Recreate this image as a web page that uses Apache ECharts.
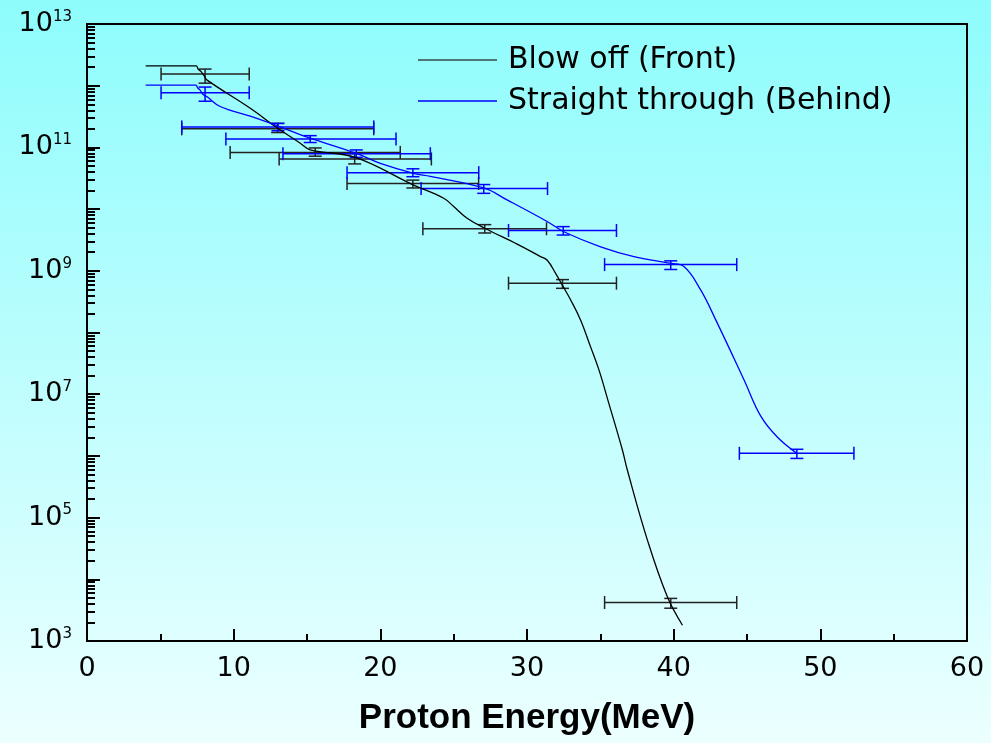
<!DOCTYPE html>
<html>
<head>
<meta charset="utf-8">
<style>
  html, body { margin: 0; padding: 0; }
  #chart { width: 991px; height: 743px; }
</style>
<script src="https://cdn.jsdelivr.net/npm/echarts@6/dist/echarts.min.js"></script>
</head>
<body>
<div id="chart"></div>
<script>
// curves (x: MeV, y: counts)
const frontCurveX = [4.0, 7.44, 7.58, 7.78, 7.99, 8.19, 11.13, 13.06, 14.54, 15.22, 18.29, 22.27, 24.32, 25.0, 25.92, 27.12, 29.33, 30.92, 31.38, 31.95, 32.4, 32.97, 33.65, 34.33, 34.9, 35.58, 36.5, 36.84, 38.2, 39.57, 40.6]
const frontCurveY = [2.1e12, 2.1e12, 1.86e12, 1.69e12, 1.44e12, 1.23e12, 4.3e11, 2.0e11, 1.17e11, 9.1e10, 6.9e10, 2.45e10, 1.5e10, 1.1e10, 7.1e9, 4.9e9, 2.7e9, 1.7e9, 1.48e9, 9.1e8, 5.9e8, 3.4e8, 1.6e8, 5.9e7, 2.5e7, 7.1e6, 1.26e6, 5.9e5, 4.4e4, 5.2e3, 1.8e3]

const behindCurveX = [4.0, 7.44, 7.53, 7.71, 7.92, 8.19, 9.08, 11.13, 13.06, 15.22, 18.41, 20.0, 22.27, 23.41, 27.05, 28.64, 31.37, 32.51, 35.02, 37.29, 39.8, 40.7, 41.84, 42.87, 44.8, 45.94, 47.08, 48.4]
const behindCurveY = [1.02e12, 1.02e12, 9.3e11, 8.5e11, 7.2e11, 6.6e11, 4.6e11, 3.2e11, 2.2e11, 1.41e11, 7.9e10, 5.5e10, 3.8e10, 3.4e10, 2.2e10, 1.41e10, 6.3e9, 4.3e9, 2.45e9, 1.7e9, 1.32e9, 1.17e9, 4.9e8, 1.6e8, 1.7e7, 4.4e6, 2.0e6, 1.1e6]

// measured points with error bars
const frontX = [8.05, 13.0, 15.56, 18.25, 22.22, 27.12, 32.42, 39.8]
const frontY = [1.55e12, 2.0e11, 8.3e10, 6.5e10, 2.6e10, 4.8e9, 6.3e8, 4.2e3]
const frontXLow = [5.05, 6.46, 9.76, 13.1, 17.73, 22.9, 28.74, 35.29]
const frontXHigh = [11.06, 19.55, 21.36, 23.48, 26.7, 31.33, 36.1, 44.3]
const frontYLow = [1.1e12, 1.74e11, 7.2e10, 5.4e10, 2.2e10, 4.1e9, 5.2e8, 3.4e3]
const frontYHigh = [1.86e12, 2.45e11, 9.8e10, 7.9e10, 2.95e10, 5.6e9, 7.2e8, 4.9e3]

const behindX = [8.05, 13.02, 15.22, 18.36, 22.22, 27.05, 32.47, 39.8, 48.4]
const behindY = [7.7e11, 2.15e11, 1.37e11, 7.9e10, 3.9e10, 2.15e10, 4.5e9, 1.26e9, 1.1e6]
const behindXLow = [5.05, 6.46, 9.47, 13.36, 17.73, 22.78, 28.74, 35.29, 44.48]
const behindXHigh = [11.06, 19.55, 21.07, 23.41, 26.71, 31.4, 36.1, 44.3, 52.29]
const behindYLow = [5.6e11, 1.86e11, 1.2e11, 6.9e10, 3.35e10, 1.8e10, 3.8e9, 1.05e9, 9.1e5]
const behindYHigh = [9.5e11, 2.45e11, 1.55e11, 9.1e10, 4.5e10, 2.5e10, 5.2e9, 1.45e9, 1.28e6]

// axis ticks
const yLabelValues = [1e3, 1e5, 1e7, 1e9, 1e11, 1e13]
const yMajorTicks = [1e3, 1e4, 1e5, 1e6, 1e7, 1e8, 1e9, 1e10, 1e11, 1e12, 1e13]
const yMinorFactors = [2, 3, 4, 5, 6, 7, 8, 9]

let yMinorTicks = []
yMajorTicks.slice(0, -1).forEach(d => {
    yMinorFactors.forEach(f => yMinorTicks.push(f * d))
})

const zip = (...cols) => cols[0].map((v, i) => cols.map(c => c[i]))

const errorBars = (color) => (params, api) => {
    let c = api.coord([api.value(0), api.value(1)])
    let xl = api.coord([api.value(2), api.value(1)])
    let xh = api.coord([api.value(3), api.value(1)])
    let yl = api.coord([api.value(0), api.value(4)])
    let yh = api.coord([api.value(0), api.value(5)])
    let cap = 6.5
    let style = { stroke: color, lineWidth: 1.5 }
    let seg = (x1, y1, x2, y2) => ({ type: 'line', shape: { x1, y1, x2, y2 }, style })
    return {
        type: 'group',
        children: [
            seg(xl[0], c[1], xh[0], c[1]),
            seg(xl[0], c[1] - cap, xl[0], c[1] + cap),
            seg(xh[0], c[1] - cap, xh[0], c[1] + cap),
            seg(c[0], yl[1], c[0], yh[1]),
            seg(c[0] - cap, yl[1], c[0] + cap, yl[1]),
            seg(c[0] - cap, yh[1], c[0] + cap, yh[1])
        ]
    }
}

const font = 'DejaVu Sans'

const chart = echarts.init(document.getElementById('chart'), null, { renderer: 'canvas' })

const option = {
    animation: false,
    backgroundColor: new echarts.graphic.LinearGradient(0, 0, 0, 1, [
        { offset: 0, color: '#8efcfc' },
        { offset: 1, color: '#ecffff' }
    ]),
    grid: {
        left: 87,
        right: 24,
        top: 24,
        bottom: 102,
        show: true,
        borderColor: '#000',
        borderWidth: 2,
        backgroundColor: 'transparent'
    },
    legend: {
        orient: 'vertical',
        left: 418,
        top: 45,
        padding: 0,
        icon: 'rect',
        itemWidth: 79,
        itemHeight: 1.5,
        itemGap: 11,
        data: ['Blow off (Front)', 'Straight through (Behind)'],
        textStyle: {
            fontFamily: font,
            fontSize: 30,
            color: '#000',
            lineHeight: 30,
            padding: [0, 0, 0, 6]
        }
    },
    xAxis: {
        type: 'value',
        min: 0,
        max: 60,
        interval: 10,
        name: 'Proton Energy(MeV)',
        nameLocation: 'middle',
        nameGap: 60,
        nameTextStyle: {
            fontFamily: 'Liberation Sans',
            fontWeight: 'bold',
            fontSize: 35,
            color: '#000'
        },
        axisLine: { lineStyle: { color: '#000', width: 2 } },
        axisTick: { inside: true, length: 12, lineStyle: { color: '#000', width: 2 } },
        minorTick: { show: true, splitNumber: 2, length: 7, lineStyle: { color: '#000', width: 2 } },
        splitLine: { show: false },
        axisLabel: { fontFamily: font, fontSize: 27, color: '#000', margin: 14 }
    },
    yAxis: [
        {
            type: 'log',
            logBase: 10,
            min: 1e3,
            max: 1e13,
            axisLine: { lineStyle: { color: '#000', width: 2 } },
            axisTick: { inside: true, length: 13, customValues: yMajorTicks, lineStyle: { color: '#000', width: 2 } },
            splitLine: { show: false },
            axisLabel: {
                customValues: yLabelValues,
                margin: 15,
                formatter: v => '{b|10}{s|' + Math.round(Math.log10(v)) + '}',
                rich: {
                    b: { fontFamily: font, fontSize: 27, color: '#000' },
                    s: { fontFamily: font, fontSize: 15, color: '#000', verticalAlign: 'top', padding: [0, 0, 14, 0] }
                }
            }
        },
        {
            type: 'log',
            logBase: 10,
            min: 1e3,
            max: 1e13,
            position: 'left',
            axisLine: { show: false },
            axisTick: { inside: true, length: 8, customValues: yMinorTicks, lineStyle: { color: '#000', width: 2 } },
            axisLabel: { show: false },
            splitLine: { show: false }
        }
    ],
    series: [
        {
            name: 'Blow off (Front)',
            type: 'line',
            symbol: 'none',
            smooth: 0.4,
            lineStyle: { color: '#000', width: 1.3 },
            itemStyle: { color: '#3a4a4a' },
            data: zip(frontCurveX, frontCurveY),
            z: 3
        },
        {
            name: 'Straight through (Behind)',
            type: 'line',
            symbol: 'none',
            smooth: 0.4,
            lineStyle: { color: '#0000ff', width: 1.3 },
            itemStyle: { color: '#0000ff' },
            data: zip(behindCurveX, behindCurveY),
            z: 3
        },
        {
            name: 'front points',
            type: 'custom',
            renderItem: errorBars('#222'),
            data: zip(frontX, frontY, frontXLow, frontXHigh, frontYLow, frontYHigh),
            z: 2
        },
        {
            name: 'behind points',
            type: 'custom',
            renderItem: errorBars('#0000ff'),
            data: zip(behindX, behindY, behindXLow, behindXHigh, behindYLow, behindYHigh),
            z: 2
        }
    ]
}

chart.setOption(option)
</script>
</body>
</html>
